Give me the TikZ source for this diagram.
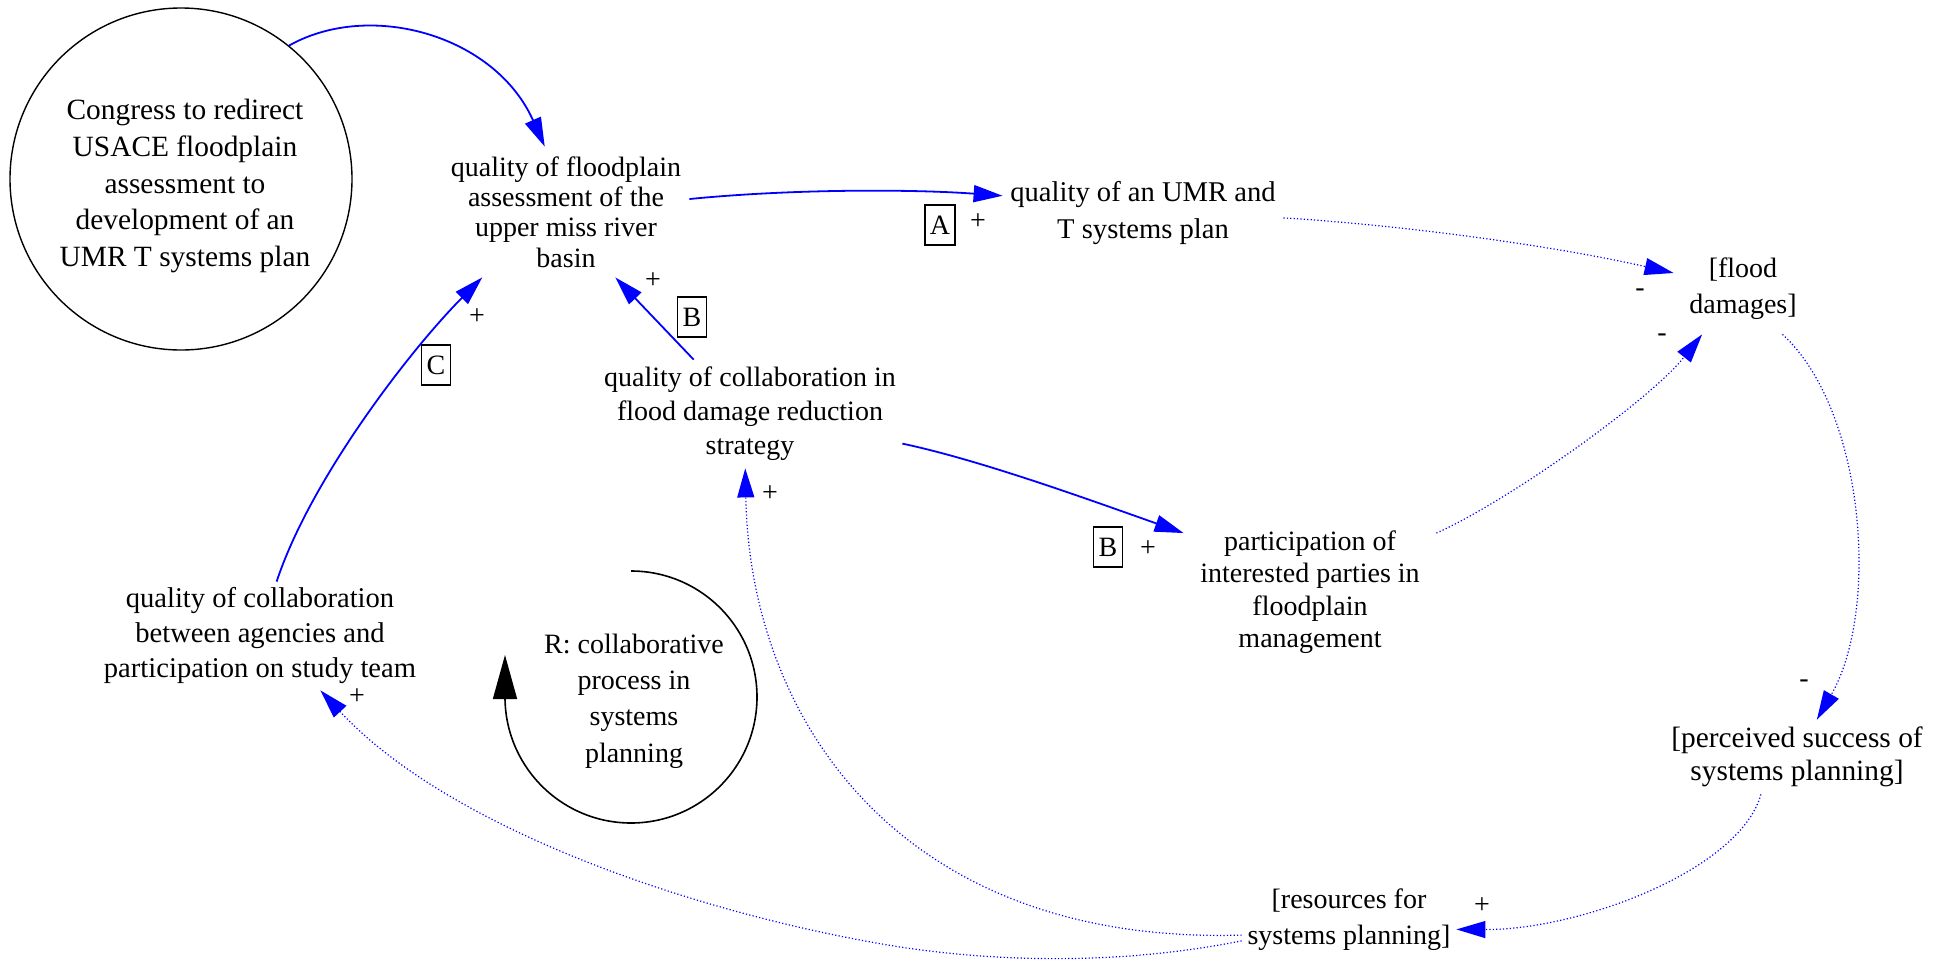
\documentclass[tikz,border=0pt]{standalone}
\usepackage{fontspec}
\setmainfont{Liberation Serif}
\usetikzlibrary{arrows.meta}
\begin{document}
\begin{tikzpicture}[x=0.5pt,y=-0.5pt,
  lbl/.style={font=\fontsize{14}{18}\selectfont, align=center, inner sep=0pt, rectangle},
  sol/.style={draw=blue, line width=0.9pt, -{Triangle[length=14.5pt,width=8.5pt]}},
  dot/.style={draw=blue, line width=0.6pt, dash pattern=on 0.6pt off 1.1pt, -{Triangle[length=14.5pt,width=8.5pt]}},
  sgn/.style={font=\fontsize{14}{18}\selectfont, inner sep=0pt},
  boxl/.style={draw, line width=0.7pt, font=\fontsize{14}{18}\selectfont, inner xsep=2.5pt, inner ysep=0pt, minimum height=20pt},
]
\useasboundingbox (0,0) rectangle (1948,959);

% nodes
\node[circle, draw, line width=0.7pt, minimum size=171pt, inner sep=0pt] (cong) at (181,179) {};
\node[lbl, font=\fontsize{14.7}{18.3}\selectfont] (congt) at (185,186) {Congress to redirect\\USACE floodplain\\assessment to\\development of an\\UMR T systems plan};
\node[lbl, minimum width=123pt, minimum height=65pt, font=\fontsize{14}{15.2}\selectfont] (fa) at (566,212) {quality of floodplain\\assessment of the\\upper miss river\\basin};
\node[lbl, minimum width=140pt, minimum height=36pt, font=\fontsize{14.3}{18.3}\selectfont] (umr) at (1143,213) {quality of an UMR and\\T systems plan};
\node[lbl, minimum width=69pt, minimum height=45pt] (flood) at (1743,289) {[flood\\damages]};
\node[lbl, minimum width=130pt, minimum height=37pt, font=\fontsize{14.7}{16.5}\selectfont] (perc) at (1797,757) {[perceived success of\\systems planning]};
\node[lbl, minimum width=107pt, minimum height=37pt] (res) at (1349,920) {[resources for\\systems planning]};
\node[lbl, minimum width=152pt, minimum height=54pt, font=\fontsize{14}{17}\selectfont] (strat) at (750,414) {quality of collaboration in\\flood damage reduction\\strategy};
\node[lbl, minimum width=126pt, minimum height=58pt, font=\fontsize{14}{16.2}\selectfont] (part) at (1310,592) {participation of\\interested parties in\\floodplain\\management};
\node[lbl, minimum width=160pt, minimum height=54pt, font=\fontsize{14.3}{17.5}\selectfont] (agen) at (260,636) {quality of collaboration\\between agencies and\\participation on study team};
\node[lbl, font=\fontsize{14}{18.2}\selectfont] (loopt) at (634,701) {R: collaborative\\process in\\systems\\planning};

% labels
\node[boxl] (la) at (940,225) {A};
\node[sgn] (pa) at (978,222) {+};
\node[boxl] (lb1) at (692,317) {B};
\node[sgn] (pb1) at (653,281) {+};
\node[boxl] (lc) at (436,365) {C};
\node[sgn] (pc) at (477,317) {+};
\node[boxl] (lb2) at (1108,547) {B};
\node[sgn] (pb2) at (1148,549) {+};
\node[sgn] (ps) at (770,494) {+};
\node[sgn] (m1) at (1640,293) {-};
\node[sgn] (m2) at (1662,338) {-};
\node[sgn] (m3) at (1804,684) {-};
\node[sgn] (pr) at (1482,906) {+};
\node[sgn] (pg) at (357,697) {+};

% edges
\draw[sol] (cong.51) .. controls (370,0) and (495,35) .. (fa.108);
\draw[sol] (fa.6.5) .. controls (790,189) and (910,189) .. (umr.173);
\draw[dot] (umr.-2.4) .. controls (1400,225) and (1550,245) .. (flood.167);
\draw[dot] (part.25.1) .. controls (1510,500) and (1650,400) .. (flood.-132.3);
\draw[dot] (flood.-49) .. controls (1865,410) and (1880,610) .. (perc.62.8);
\draw[dot] (perc.-134) .. controls (1740,870) and (1580,930) .. (res.-5.4);
\draw[dot] (res.188) .. controls (900,945) and (750,720) .. (strat.-95.4);
\draw[dot] (res.191.5) .. controls (1120,965) and (1000,962) .. (900,947) .. controls (700,915) and (450,830) .. (agen.-42.5);
\draw[sol] (strat.136) -- (fa.-53);
\draw[sol] (strat.-11.2) .. controls (980,460) and (1090,500) .. (part.155.8);
\draw[sol] (agen.73.2) .. controls (310,480) and (410,350) .. (fa.-142.9);

% loop symbol
\draw[line width=0.8pt, -{Triangle[length=22pt,width=12pt]}] (631,571) arc[start angle=-90, end angle=180, radius=126] -- (505,655);
\end{tikzpicture}
\end{document}
